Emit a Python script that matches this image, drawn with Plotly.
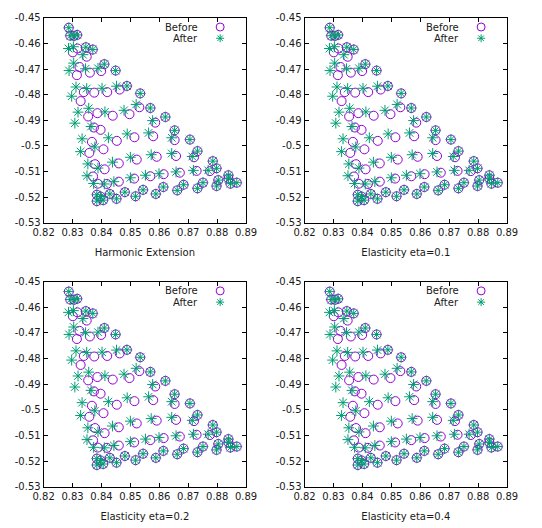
import plotly.graph_objects as go

# ---- data ----
before_x = [0.8287, 0.8292, 0.8305, 0.8316, 0.8346, 0.8370, 0.8410, 0.8449, 0.8488, 0.8534,
            0.8569, 0.8621, 0.8653, 0.8706, 0.8732, 0.8785, 0.8798, 0.8384, 0.8397, 0.8384,
            0.8406, 0.8429, 0.8452, 0.8481, 0.8518, 0.8544, 0.8588, 0.8614, 0.8662, 0.8684,
            0.8732, 0.8751, 0.8798, 0.8804, 0.8839, 0.8839, 0.8846, 0.8868,
            0.8301, 0.8317, 0.8349, 0.8324, 0.8315, 0.8360, 0.8399, 0.8328, 0.8339, 0.8375,
            0.8420, 0.8463, 0.8354, 0.8386, 0.8439, 0.8497, 0.8531, 0.8586, 0.8374, 0.8367,
            0.8397, 0.8453, 0.8514, 0.8579, 0.8653, 0.8358, 0.8407, 0.8460, 0.8522, 0.8591,
            0.8658, 0.8720, 0.8378, 0.8411, 0.8371, 0.8460, 0.8513, 0.8569, 0.8615, 0.8671,
            0.8729, 0.8775, 0.8387, 0.8419]
before_y = [-0.4539, -0.4570, -0.4571, -0.4567, -0.4615, -0.4624, -0.4681, -0.4706, -0.4766, -0.4795,
            -0.4852, -0.4887, -0.4939, -0.4975, -0.5020, -0.5059, -0.5087, -0.5190, -0.5197, -0.5215,
            -0.5211, -0.5187, -0.5206, -0.5180, -0.5196, -0.5171, -0.5187, -0.5160, -0.5173, -0.5151,
            -0.5165, -0.5143, -0.5156, -0.5133, -0.5114, -0.5127, -0.5147, -0.5143,
            -0.4635, -0.4620, -0.4652, -0.4692, -0.4724, -0.4714, -0.4708, -0.4825, -0.4790, -0.4792,
            -0.4790, -0.4780, -0.4885, -0.4872, -0.4882, -0.4876, -0.4849, -0.4909, -0.4928, -0.4984,
            -0.4937, -0.4980, -0.4966, -0.4962, -0.4977, -0.5027, -0.5013, -0.5068, -0.5053, -0.5042,
            -0.5039, -0.5044, -0.5071, -0.5091, -0.5119, -0.5139, -0.5127, -0.5118, -0.5110, -0.5104,
            -0.5097, -0.5098, -0.5147, -0.5148]

after_x = [0.8287, 0.8292, 0.8305, 0.8316, 0.8346, 0.8370, 0.8410, 0.8449, 0.8488, 0.8534,
           0.8569, 0.8621, 0.8653, 0.8706, 0.8732, 0.8785, 0.8798, 0.8384, 0.8397, 0.8384,
           0.8406, 0.8429, 0.8452, 0.8481, 0.8518, 0.8544, 0.8588, 0.8614, 0.8662, 0.8684,
           0.8732, 0.8751, 0.8798, 0.8804, 0.8839, 0.8839, 0.8846, 0.8868,
           0.8286, 0.8303, 0.8336, 0.8304, 0.8288, 0.8345, 0.8388, 0.8312, 0.8297, 0.8349,
           0.8402, 0.8452, 0.8319, 0.8356, 0.8412, 0.8478, 0.8520, 0.8577, 0.8308, 0.8364,
           0.8333, 0.8424, 0.8489, 0.8563, 0.8643, 0.8328, 0.8377, 0.8438, 0.8500, 0.8572,
           0.8643, 0.8714, 0.8353, 0.8388, 0.8350, 0.8443, 0.8500, 0.8552, 0.8599, 0.8658,
           0.8718, 0.8769, 0.8373, 0.8410]
after_y = [-0.4539, -0.4570, -0.4571, -0.4567, -0.4615, -0.4624, -0.4681, -0.4706, -0.4766, -0.4795,
           -0.4852, -0.4887, -0.4939, -0.4975, -0.5020, -0.5059, -0.5087, -0.5190, -0.5197, -0.5215,
           -0.5211, -0.5187, -0.5206, -0.5180, -0.5196, -0.5171, -0.5187, -0.5160, -0.5173, -0.5151,
           -0.5165, -0.5143, -0.5156, -0.5133, -0.5114, -0.5127, -0.5147, -0.5143,
           -0.4620, -0.4613, -0.4644, -0.4677, -0.4706, -0.4699, -0.4697, -0.4770, -0.4806, -0.4776,
           -0.4775, -0.4767, -0.4868, -0.4853, -0.4867, -0.4861, -0.4838, -0.4901, -0.4911, -0.4924,
           -0.4972, -0.4968, -0.4953, -0.4949, -0.4968, -0.5022, -0.5004, -0.5063, -0.5044, -0.5034,
           -0.5029, -0.5041, -0.5070, -0.5086, -0.5116, -0.5139, -0.5124, -0.5114, -0.5108, -0.5101,
           -0.5095, -0.5095, -0.5146, -0.5148]

panel_titles = ["Harmonic Extension", "Elasticity eta=0.1",
                "Elasticity eta=0.2", "Elasticity eta=0.4"]
x_ticks = [0.82, 0.83, 0.84, 0.85, 0.86, 0.87, 0.88, 0.89]
y_ticks = [-0.53, -0.52, -0.51, -0.50, -0.49, -0.48, -0.47, -0.46, -0.45]

# ---- layout geometry ----
W, H = 542, 528
PURPLE = "#9400d3"
GREEN = "#009e73"
TXT = "#1a1a1a"
FONT = "DejaVu Sans"

# panel plot-area pixel boxes: (left, right, top, bottom)
boxes = [(34, 245, 12, 222), (306, 517, 12, 222),
         (34, 245, 282, 492), (306, 517, 282, 492)]

fig = go.Figure()
layout = dict(width=W, height=H, margin=dict(l=0, r=0, t=0, b=0),
              paper_bgcolor="white", plot_bgcolor="white", showlegend=False,
              font=dict(family=FONT, size=10, color=TXT))
annotations = []
shapes = []

for i, (l, r, t, b) in enumerate(boxes):
    n = "" if i == 0 else str(i + 1)
    xa, ya = "x" + n, "y" + n
    fig.add_trace(go.Scatter(x=before_x, y=before_y, mode="markers", name="Before",
                             xaxis=xa, yaxis=ya,
                             marker=dict(symbol="circle-open", size=9,
                                         color=PURPLE, line=dict(color=PURPLE, width=1))))
    fig.add_trace(go.Scatter(x=after_x, y=after_y, mode="markers", name="After",
                             xaxis=xa, yaxis=ya,
                             marker=dict(symbol="asterisk-open", size=9,
                                         color=GREEN, line=dict(color=GREEN, width=1))))
    common = dict(showline=True, linecolor="black", linewidth=1, mirror="ticks",
                  ticks="inside", ticklen=4, tickcolor="black", showgrid=False,
                  zeroline=False, tickfont=dict(family=FONT, size=10, color=TXT))
    layout["xaxis" + n] = dict(domain=[l / W, r / W], range=[0.82, 0.89],
                               tickvals=x_ticks, ticktext=[f"{v:.2f}" for v in x_ticks],
                               anchor=ya, title=dict(text=panel_titles[i], standoff=12,
                                                     font=dict(family=FONT, size=10, color=TXT)),
                               **common)
    layout["yaxis" + n] = dict(domain=[1 - b / H, 1 - t / H], range=[-0.53, -0.45],
                               tickvals=y_ticks, ticktext=[f"{v:g}" for v in y_ticks],
                               anchor=xa, **common)
    # key (gnuplot style: label on the left, sample on the right)
    kx_text = l + 163
    kx_sym = l + 184
    for j, (label, col) in enumerate([("Before", PURPLE), ("After", GREEN)]):
        ky = t + 9.5 + 11.5 * j
        annotations.append(dict(text=label, xref="paper", yref="paper",
                                x=kx_text / W, y=1 - ky / H, xanchor="right", yanchor="middle",
                                showarrow=False, font=dict(family=FONT, size=10, color=TXT)))
        if j == 0:
            shapes.append(dict(type="circle", xref="paper", yref="paper",
                               xsizemode="pixel", ysizemode="pixel",
                               xanchor=kx_sym / W, yanchor=1 - ky / H,
                               x0=-4, x1=4, y0=-4, y1=4,
                               line=dict(color=col, width=1)))
        else:
            p = ("M-4,0L4,0M0,-4L0,4M-2.8,-2.8L2.8,2.8M-2.8,2.8L2.8,-2.8")
            shapes.append(dict(type="path", xref="paper", yref="paper",
                               xsizemode="pixel", ysizemode="pixel",
                               xanchor=kx_sym / W, yanchor=1 - ky / H,
                               path=p, line=dict(color=col, width=1)))

layout["annotations"] = annotations
layout["shapes"] = shapes
fig.update_layout(**layout)
fig.write_html("out.html")
